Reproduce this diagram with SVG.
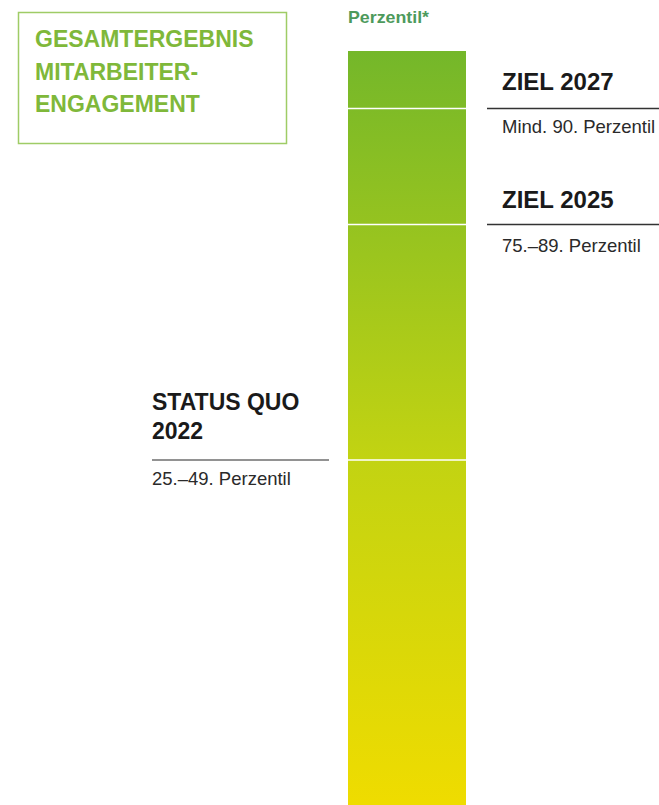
<svg xmlns="http://www.w3.org/2000/svg" width="659" height="805" viewBox="0 0 659 805">
<defs>
<linearGradient id="barGrad" x1="0" y1="51" x2="0" y2="805" gradientUnits="userSpaceOnUse">
<stop offset="0" stop-color="#74b72a"/>
<stop offset="0.54" stop-color="#c2d312"/>
<stop offset="1" stop-color="#efdc00"/>
</linearGradient>
<style>
.title{font-family:"Liberation Sans",Arial,sans-serif;font-weight:bold;font-size:23px;fill:#7fb83a}
.head{font-family:"Liberation Sans",Arial,sans-serif;font-weight:bold;font-size:23px;fill:#1a1a1a}
.zh{font-size:24px}
.sub{font-family:"Liberation Sans",Arial,sans-serif;font-size:18.5px;fill:#2a2a2a}
.axis{font-family:"Liberation Sans",Arial,sans-serif;font-weight:bold;font-size:16.5px;fill:#4d9a5c}
.rule{stroke:#333;stroke-width:1.3}
.rule2{stroke:#6e6e6e;stroke-width:1.3}
.div{stroke:#fff;stroke-width:1.5}
</style>
</defs>
<rect width="659" height="805" fill="#fff"/>
<g id="title-box">
<rect x="18.5" y="12.5" width="268" height="131" fill="none" stroke="#9fcc66" stroke-width="1.5"/>
<text class="title" x="35" y="47">GESAMTERGEBNIS</text>
<text class="title" x="35" y="80">MITARBEITER-</text>
<text class="title" x="35" y="112">ENGAGEMENT</text>
</g>
<g id="bar">
<text class="axis" x="348" y="23" textLength="81" lengthAdjust="spacingAndGlyphs">Perzentil*</text>
<rect x="348" y="51" width="118" height="754" fill="url(#barGrad)"/>
</g>
<g id="connectors">
<line class="div" x1="348" y1="108.5" x2="466" y2="108.5"/>
<line class="div" x1="348" y1="224.5" x2="466" y2="224.5"/>
<line class="div" x1="348" y1="460" x2="466" y2="460"/>
<line class="rule" x1="487" y1="108.5" x2="659" y2="108.5"/>
<line class="rule" x1="487" y1="224.5" x2="659" y2="224.5"/>
<line class="rule2" x1="152" y1="460" x2="329" y2="460"/>
</g>
<g id="ziel-2027">
<text class="head zh" x="502" y="90">ZIEL 2027</text>
<text class="sub" x="502" y="133">Mind. 90. Perzentil</text>
</g>
<g id="ziel-2025">
<text class="head zh" x="502" y="208">ZIEL 2025</text>
<text class="sub" x="502" y="252">75.–89. Perzentil</text>
</g>
<g id="status-quo-2022">
<text class="head" x="152" y="410">STATUS QUO</text>
<text class="head" x="152" y="439">2022</text>
<text class="sub" x="152" y="485">25.–49. Perzentil</text>
</g>
</svg>
